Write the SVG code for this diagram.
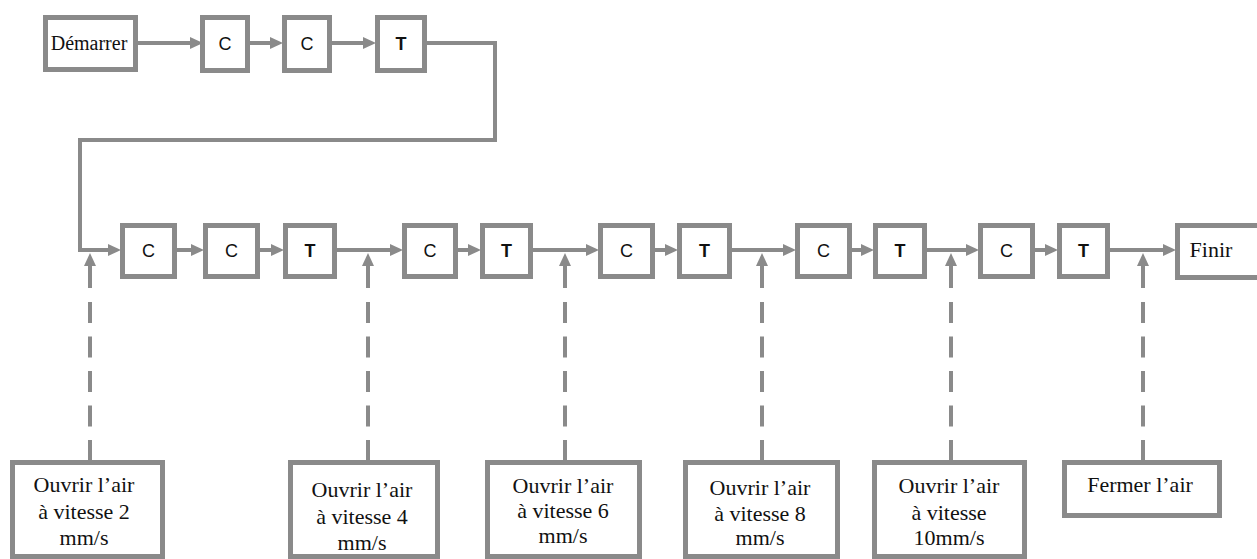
<svg xmlns="http://www.w3.org/2000/svg" width="1257" height="559" viewBox="0 0 1257 559">
<defs>
<marker id="ah" markerUnits="userSpaceOnUse" markerWidth="14" markerHeight="14" refX="6" refY="6" orient="auto">
<path d="M0,0 L13,6 L0,12 z" fill="#8a8a8a"/>
</marker>
</defs>
<style>
.box{fill:#fff;stroke:#8a8a8a;stroke-width:5}
.lbl{font-family:"Liberation Sans",Arial,sans-serif;font-size:18px;fill:#111;text-anchor:middle}
.b{font-weight:bold}
.ser{font-family:"Liberation Serif","Times New Roman",serif;font-size:22px;fill:#111;text-anchor:middle}
.ln{fill:none;stroke:#8a8a8a;stroke-width:4}
.dash{fill:none;stroke:#8a8a8a;stroke-width:4;stroke-dasharray:21 13.5}
</style>
<rect width="1257" height="559" fill="#fff"/>

<g id="connectors">
<line class="ln" x1="138" y1="43" x2="196" y2="43" marker-end="url(#ah)"/>
<line class="ln" x1="250" y1="43" x2="276" y2="43" marker-end="url(#ah)"/>
<line class="ln" x1="332" y1="43" x2="369" y2="43" marker-end="url(#ah)"/>
<path class="ln" d="M427,43 H495 V140 H80 V250 H114" marker-end="url(#ah)"/>
<line class="ln" x1="177" y1="250" x2="197" y2="250" marker-end="url(#ah)"/>
<line class="ln" x1="260" y1="250" x2="277" y2="250" marker-end="url(#ah)"/>
<line class="ln" x1="337" y1="250" x2="396" y2="250" marker-end="url(#ah)"/>
<line class="ln" x1="458" y1="250" x2="474" y2="250" marker-end="url(#ah)"/>
<line class="ln" x1="533" y1="250" x2="592" y2="250" marker-end="url(#ah)"/>
<line class="ln" x1="655" y1="250" x2="671" y2="250" marker-end="url(#ah)"/>
<line class="ln" x1="732" y1="250" x2="789" y2="250" marker-end="url(#ah)"/>
<line class="ln" x1="852" y1="250" x2="867" y2="250" marker-end="url(#ah)"/>
<line class="ln" x1="927" y1="250" x2="972" y2="250" marker-end="url(#ah)"/>
<line class="ln" x1="1035" y1="250" x2="1051" y2="250" marker-end="url(#ah)"/>
<line class="ln" x1="1110" y1="250" x2="1169" y2="250" marker-end="url(#ah)"/>
<line class="ln" x1="90" y1="288" x2="90" y2="260" marker-end="url(#ah)"/>
<line class="dash" x1="90" y1="302" x2="90" y2="461"/>
<line class="ln" x1="368" y1="288" x2="368" y2="260" marker-end="url(#ah)"/>
<line class="dash" x1="368" y1="302" x2="368" y2="461"/>
<line class="ln" x1="565" y1="288" x2="565" y2="260" marker-end="url(#ah)"/>
<line class="dash" x1="565" y1="302" x2="565" y2="461"/>
<line class="ln" x1="762" y1="288" x2="762" y2="260" marker-end="url(#ah)"/>
<line class="dash" x1="762" y1="302" x2="762" y2="461"/>
<line class="ln" x1="951" y1="288" x2="951" y2="260" marker-end="url(#ah)"/>
<line class="dash" x1="951" y1="302" x2="951" y2="461"/>
<line class="ln" x1="1143" y1="288" x2="1143" y2="260" marker-end="url(#ah)"/>
<line class="dash" x1="1143" y1="302" x2="1143" y2="461"/>
</g>

<g id="start"><rect class="box" x="45.5" y="17.5" width="90" height="52"/><text class="ser" x="89" y="50" style="font-size:20px">Démarrer</text></g>
<g id="top-c1"><rect class="box" x="202.5" y="17.5" width="45" height="53"/><text class="lbl" x="225" y="50">C</text></g>
<g id="top-c2"><rect class="box" x="284.5" y="17.5" width="45" height="53"/><text class="lbl" x="307" y="50">C</text></g>
<g id="top-t"><rect class="box" x="377.5" y="17.5" width="47" height="53"/><text class="lbl b" x="401" y="50">T</text></g>

<g id="row-c1"><rect class="box" x="122.5" y="225.5" width="52" height="51"/><text class="lbl" x="148.5" y="257">C</text></g>
<g id="row-c2"><rect class="box" x="205.5" y="225.5" width="52" height="51"/><text class="lbl" x="231.5" y="257">C</text></g>
<g id="row-t1"><rect class="box" x="285.5" y="225.5" width="49" height="51"/><text class="lbl b" x="310" y="257">T</text></g>
<g id="row-c3"><rect class="box" x="404.5" y="225.5" width="51" height="51"/><text class="lbl" x="430" y="257">C</text></g>
<g id="row-t2"><rect class="box" x="482.5" y="225.5" width="48" height="51"/><text class="lbl b" x="506.5" y="257">T</text></g>
<g id="row-c4"><rect class="box" x="600.5" y="225.5" width="52" height="51"/><text class="lbl" x="626.5" y="257">C</text></g>
<g id="row-t3"><rect class="box" x="679.5" y="225.5" width="50" height="51"/><text class="lbl b" x="704.5" y="257">T</text></g>
<g id="row-c5"><rect class="box" x="797.5" y="225.5" width="52" height="51"/><text class="lbl" x="823.5" y="257">C</text></g>
<g id="row-t4"><rect class="box" x="875.5" y="225.5" width="49" height="51"/><text class="lbl b" x="900" y="257">T</text></g>
<g id="row-c6"><rect class="box" x="980.5" y="225.5" width="52" height="51"/><text class="lbl" x="1006.5" y="257">C</text></g>
<g id="row-t5"><rect class="box" x="1059.5" y="225.5" width="48" height="51"/><text class="lbl b" x="1083.5" y="257">T</text></g>
<g id="finish"><rect class="box" x="1177.5" y="225.5" width="90" height="52"/><text class="ser" x="1211" y="257">Finir</text></g>

<g id="air-2"><rect class="box" x="12.5" y="462.5" width="150" height="94"/>
<text class="ser" x="84" y="492">Ouvrir l’air</text><text class="ser" x="84" y="519">à vitesse 2</text><text class="ser" x="84" y="545">mm/s</text></g>
<g id="air-4"><rect class="box" x="290.5" y="462.5" width="147" height="94"/>
<text class="ser" x="362" y="497">Ouvrir l’air</text><text class="ser" x="362" y="524">à vitesse 4</text><text class="ser" x="362" y="550">mm/s</text></g>
<g id="air-6"><rect class="box" x="487.5" y="462.5" width="152" height="94"/>
<text class="ser" x="563" y="493">Ouvrir l’air</text><text class="ser" x="563" y="518">à vitesse 6</text><text class="ser" x="563" y="543">mm/s</text></g>
<g id="air-8"><rect class="box" x="685.5" y="462.5" width="152" height="94"/>
<text class="ser" x="760" y="495">Ouvrir l’air</text><text class="ser" x="760" y="521">à vitesse 8</text><text class="ser" x="760" y="545">mm/s</text></g>
<g id="air-10"><rect class="box" x="874.5" y="462.5" width="150" height="94"/>
<text class="ser" x="949" y="493">Ouvrir l’air</text><text class="ser" x="949" y="520">à vitesse</text><text class="ser" x="949" y="545">10mm/s</text></g>
<g id="air-off"><rect class="box" x="1064.5" y="462.5" width="155" height="53"/>
<text class="ser" x="1140" y="492">Fermer l’air</text></g>
</svg>
